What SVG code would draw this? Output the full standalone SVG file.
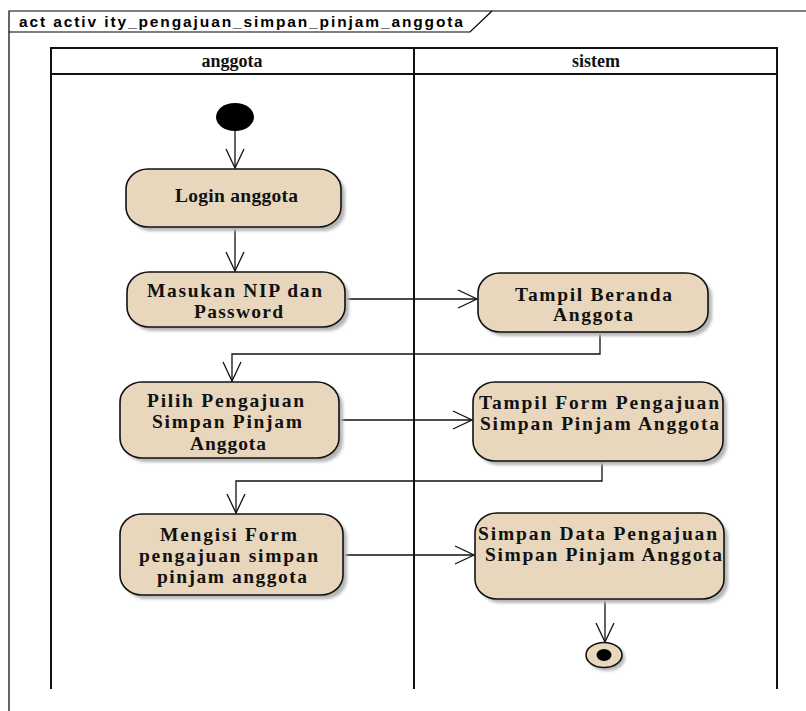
<svg xmlns="http://www.w3.org/2000/svg" width="806" height="711" viewBox="0 0 806 711">
<defs>
<style>
.frame{fill:none;stroke:#000;stroke-width:1.2}
.lane{fill:none;stroke:#111;stroke-width:2}
.node{fill:#E8D7BC;stroke:#111;stroke-width:1.6}
.shadow{fill:#B5B5B5;filter:url(#blur)}
.t{font-family:"Liberation Serif","Times New Roman",serif;font-weight:bold;font-size:19.5px;fill:#111;text-anchor:middle}
.hd{font-family:"Liberation Serif","Times New Roman",serif;font-weight:bold;font-size:18px;fill:#111;text-anchor:middle}
.lbl{font-family:"Liberation Sans",Arial,sans-serif;font-weight:bold;font-size:15.5px;fill:#000}
.edge{fill:none;stroke:#111;stroke-width:1.3}
</style>
<filter id="blur" x="-10%" y="-10%" width="130%" height="130%"><feGaussianBlur stdDeviation="1.5"/></filter>
<marker id="arr" markerWidth="22" markerHeight="22" refX="20" refY="10" orient="auto" markerUnits="userSpaceOnUse">
<path d="M1,1 L20,10 L1,19" fill="none" stroke="#111" stroke-width="1.3"/>
</marker>
</defs>
<rect width="806" height="711" fill="#fff"/>

<g id="frame">
<path class="frame" d="M9,711 V11 H806"/>
<path class="frame" d="M9,32 H470 L492,11"/>
<text class="lbl" x="19" y="27" textLength="444" lengthAdjust="spacing">act activ ity_pengajuan_simpan_pinjam_anggota</text>
</g>

<g id="lanes">
<path class="lane" d="M51,689 V48 H777 V689"/>
<path class="lane" d="M51,74 H777"/>
<path class="lane" d="M414,48 V689"/>
<text class="hd" x="232" y="67">anggota</text>
<text class="hd" x="596" y="67">sistem</text>
</g>

<g id="connectors">
<path class="edge" d="M235,130 V168" marker-end="url(#arr)"/>
<path class="edge" d="M235,227 V271" marker-end="url(#arr)"/>
<path class="edge" d="M345,299 H477" marker-end="url(#arr)"/>
<path class="edge" d="M600,332 V354 H232 V381" marker-end="url(#arr)"/>
<path class="edge" d="M339,420 H472" marker-end="url(#arr)"/>
<path class="edge" d="M602,461 V481 H236 V513" marker-end="url(#arr)"/>
<path class="edge" d="M343,555 H474" marker-end="url(#arr)"/>
<path class="edge" d="M605,599 V642" marker-end="url(#arr)"/>
</g>

<g id="start">
<ellipse cx="235" cy="117" rx="19" ry="14" fill="#000"/>
</g>

<g id="login">
<rect class="shadow" x="130" y="173" width="215" height="58" rx="22" ry="20"/>
<rect class="node" x="126" y="169" width="215" height="58" rx="22" ry="20"/>
<text class="t" x="236.5" y="202" textLength="123" lengthAdjust="spacing">Login anggota</text>
</g>

<g id="masukan">
<rect class="shadow" x="131" y="276" width="218" height="55" rx="22" ry="20"/>
<rect class="node" x="127" y="272" width="218" height="55" rx="22" ry="20"/>
<text class="t" x="234.5" y="297" textLength="175" lengthAdjust="spacing">Masukan NIP dan</text>
<text class="t" x="238.5" y="318" textLength="89" lengthAdjust="spacing">Password</text>
</g>

<g id="beranda">
<rect class="shadow" x="482" y="277" width="230" height="59" rx="22" ry="20"/>
<rect class="node" x="478" y="273" width="230" height="59" rx="22" ry="20"/>
<text class="t" x="593.5" y="301" textLength="157" lengthAdjust="spacing">Tampil Beranda</text>
<text class="t" x="593" y="321" textLength="80" lengthAdjust="spacing">Anggota</text>
</g>

<g id="pilih">
<rect class="shadow" x="124" y="386" width="219" height="76" rx="22" ry="20"/>
<rect class="node" x="120" y="382" width="219" height="76" rx="22" ry="20"/>
<text class="t" x="225.5" y="407" textLength="157" lengthAdjust="spacing">Pilih Pengajuan</text>
<text class="t" x="227" y="428" textLength="150" lengthAdjust="spacing">Simpan Pinjam</text>
<text class="t" x="228" y="450" textLength="76" lengthAdjust="spacing">Anggota</text>
</g>

<g id="tampilform">
<rect class="shadow" x="477" y="386" width="250" height="79" rx="22" ry="20"/>
<rect class="node" x="473" y="382" width="250" height="79" rx="22" ry="20"/>
<text class="t" x="599" y="409" textLength="240" lengthAdjust="spacing">Tampil Form Pengajuan</text>
<text class="t" x="599.5" y="430" textLength="239" lengthAdjust="spacing">Simpan Pinjam Anggota</text>
</g>

<g id="mengisi">
<rect class="shadow" x="124" y="518" width="223" height="81" rx="22" ry="20"/>
<rect class="node" x="120" y="514" width="223" height="81" rx="22" ry="20"/>
<text class="t" x="228.5" y="541" textLength="137" lengthAdjust="spacing">Mengisi Form</text>
<text class="t" x="228.5" y="562" textLength="179" lengthAdjust="spacing">pengajuan simpan</text>
<text class="t" x="232" y="583" textLength="150" lengthAdjust="spacing">pinjam anggota</text>
</g>

<g id="simpandata">
<rect class="shadow" x="479" y="517" width="249" height="86" rx="22" ry="20"/>
<rect class="node" x="475" y="513" width="249" height="86" rx="22" ry="20"/>
<text class="t" x="597.5" y="540" textLength="239" lengthAdjust="spacing">Simpan Data Pengajuan</text>
<text class="t" x="603.5" y="561" textLength="237" lengthAdjust="spacing">Simpan Pinjam Anggota</text>
</g>

<g id="final">
<ellipse class="shadow" cx="607" cy="658" rx="18" ry="13"/>
<ellipse class="node" cx="604" cy="655" rx="18" ry="12.5"/>
<ellipse cx="604" cy="655" rx="7.5" ry="6" fill="#000"/>
</g>
</svg>
